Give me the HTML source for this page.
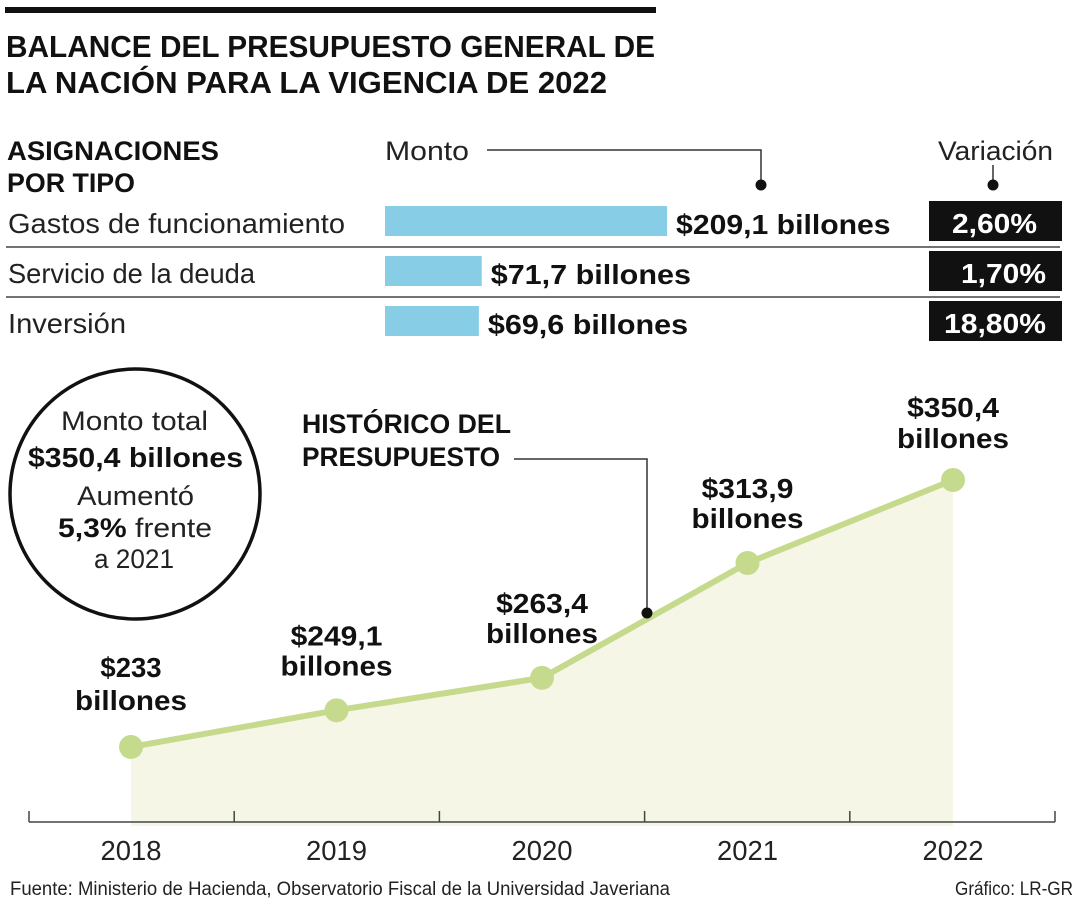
<!DOCTYPE html>
<html><head><meta charset="utf-8"><style>
html,body{margin:0;padding:0;background:#fff;}
svg{display:block;font-family:"Liberation Sans Narrow","Liberation Sans",sans-serif;}
.b{font-weight:bold;}
</style></head><body>
<svg id="chart" width="1080" height="900" viewBox="0 0 1080 900" xmlns="http://www.w3.org/2000/svg">
<rect x="5" y="7" width="651" height="6" fill="#111"/>
<text x="6" y="57" font-size="31" class="b" textLength="649" lengthAdjust="spacingAndGlyphs" fill="#111">BALANCE DEL PRESUPUESTO GENERAL DE</text>
<text x="6" y="93" font-size="31" class="b" textLength="601" lengthAdjust="spacingAndGlyphs" fill="#111">LA NACIÓN PARA LA VIGENCIA DE 2022</text>
<text x="7" y="160" font-size="27" class="b" textLength="212" lengthAdjust="spacingAndGlyphs" fill="#111">ASIGNACIONES</text>
<text x="7" y="192" font-size="27" class="b" textLength="128" lengthAdjust="spacingAndGlyphs" fill="#111">POR TIPO</text>
<text x="385" y="160" font-size="27" textLength="84" lengthAdjust="spacingAndGlyphs" fill="#222">Monto</text>
<polyline points="487,150 761,150 761,185" fill="none" stroke="#333" stroke-width="1.5"/>
<circle cx="761" cy="185" r="5.5" fill="#111"/>
<text x="938" y="160" font-size="27" textLength="115" lengthAdjust="spacingAndGlyphs" fill="#222">Variación</text>
<line x1="993" y1="165" x2="993" y2="185" stroke="#333" stroke-width="1.5"/>
<circle cx="993" cy="185" r="5.5" fill="#111"/>
<g id="bars"></g>
<circle cx="135" cy="494" r="125" fill="#fff" stroke="#111" stroke-width="3.5"/>
<text x="61" y="430" font-size="27" textLength="147" lengthAdjust="spacingAndGlyphs" fill="#222">Monto total</text>
<text x="28" y="467" font-size="28" class="b" textLength="215" lengthAdjust="spacingAndGlyphs" fill="#111">$350,4 billones</text>
<text x="77" y="505" font-size="27" textLength="117" lengthAdjust="spacingAndGlyphs" fill="#222">Aumentó</text>
<text x="58" y="537" font-size="27" textLength="154" lengthAdjust="spacingAndGlyphs" fill="#222"><tspan font-weight="bold" fill="#111">5,3%</tspan> frente</text>
<text x="94" y="568" font-size="27" textLength="80" lengthAdjust="spacingAndGlyphs" fill="#222">a 2021</text>
<g id="line-chart"></g>
<text x="302" y="433" font-size="27" class="b" textLength="209" lengthAdjust="spacingAndGlyphs" fill="#111">HISTÓRICO DEL</text>
<text x="302" y="466" font-size="27" class="b" textLength="198" lengthAdjust="spacingAndGlyphs" fill="#111">PRESUPUESTO</text>
<polyline points="514,459 647,459 647,613" fill="none" stroke="#333" stroke-width="1.5"/>
<circle cx="647" cy="613" r="5.5" fill="#111"/>
<text x="10" y="895" font-size="19" textLength="660" lengthAdjust="spacingAndGlyphs" fill="#222">Fuente: Ministerio de Hacienda, Observatorio Fiscal de la Universidad Javeriana</text>
<text x="955" y="895" font-size="19" textLength="118" lengthAdjust="spacingAndGlyphs" fill="#222">Gráfico: LR-GR</text>
</svg>
<script>
const barCategories = ["Gastos de funcionamiento", "Servicio de la deuda", "Inversión"];
const barValues = [209.1, 71.7, 69.6];
const barLabels = ["$209,1 billones", "$71,7 billones", "$69,6 billones"];
const variationLabels = ["2,60%", "1,70%", "18,80%"];

const years = ["2018", "2019", "2020", "2021", "2022"];
const totals = [233, 249.1, 263.4, 313.9, 350.4];
const totalLabels = ["$233", "$249,1", "$263,4", "$313,9", "$350,4"];

const NS = "http://www.w3.org/2000/svg";
function mk(tag, attrs, parent, text) {
  const e = document.createElementNS(NS, tag);
  for (const k in attrs) e.setAttribute(k, attrs[k]);
  if (text !== undefined) e.textContent = text;
  parent.appendChild(e);
  return e;
}

// bar section
const barX = v => 385 + v * 1.349;
const bg = document.getElementById('bars');
const labelW = [337, 247, 118];
const pctRight = [1037, 1046, 1046];
barCategories.forEach((c, i) => {
  const top = 206 + i * 50;
  const t = mk('text', {x: 8, y: top + 27, 'font-size': 28, fill: '#222', textLength: labelW[i], lengthAdjust: 'spacingAndGlyphs'}, bg, c);
  
  
  const r = mk('rect', {x: 385, y: top, width: barX(barValues[i]) - 385, height: 30, fill: '#87cde5'}, bg);
  
  
  const vt = mk('text', {x: barX(barValues[i]) + 9, y: top + 28, 'font-size': 28, 'font-weight': 'bold', fill: '#111', textLength: barLabels[i].length * 14.3, lengthAdjust: 'spacingAndGlyphs'}, bg, barLabels[i]);
  
  
  const box = mk('rect', {x: 929, y: top - 5, width: 133, height: 40, fill: '#111'}, bg);
  
  
  const pt = mk('text', {x: pctRight[i], y: top + 27, 'font-size': 28, 'font-weight': 'bold', fill: '#fff', 'text-anchor': 'end', textLength: variationLabels[i].length * 17, lengthAdjust: 'spacingAndGlyphs'}, bg, variationLabels[i]);
  
  
  if (i < 2) {
    const l = mk('line', {x1: 6, x2: 1060, y1: top + 41, y2: top + 41, stroke: '#444', 'stroke-width': 1.5}, bg);
    
    
  }
});

// line chart
const xPos = i => 131 + i * 205.5;
const yPos = v => 822 - (v - 200) * 2.274;
const lg = document.getElementById('line-chart');
let area = `M${xPos(0)},826 `;
totals.forEach((v, i) => { area += `L${xPos(i)},${yPos(v)} `; });
area += `L${xPos(totals.length - 1)},826 Z`;
const ap = mk('path', {d: area, fill: '#f5f6e6'}, lg);


const ax = mk('line', {x1: 29, x2: 1055, y1: 822, y2: 822, stroke: '#444', 'stroke-width': 1.5}, lg);


for (let k = 0; k <= years.length; k++) {
  const tx = 29 + k * 205.2;
  const tk = mk('line', {x1: tx, x2: tx, y1: 811, y2: 822, stroke: '#444', 'stroke-width': 1.5}, lg);
  
  
}
const pts = totals.map((v, i) => `${xPos(i)},${yPos(v)}`).join(' ');
const pl = mk('polyline', {points: pts, fill: 'none', stroke: '#c6da8e', 'stroke-width': 6, 'stroke-linejoin': 'round'}, lg);


totals.forEach((v, i) => {
  const c = mk('circle', {cx: xPos(i), cy: yPos(v), r: 12, fill: '#c6da8e'}, lg);
  
  
  const y = yPos(v);
  const offs = i === 4 ? [63, 32] : (i === 0 ? [70, 37] : [65, 35]);
  const t1 = mk('text', {x: xPos(i), y: y - offs[0], 'font-size': 28, 'font-weight': 'bold', fill: '#111', 'text-anchor': 'middle', textLength: totalLabels[i].length * 15.3, lengthAdjust: 'spacingAndGlyphs'}, lg, totalLabels[i]);
  
  
  const t2 = mk('text', {x: xPos(i), y: y - offs[1], 'font-size': 28, 'font-weight': 'bold', fill: '#111', 'text-anchor': 'middle', textLength: 112, lengthAdjust: 'spacingAndGlyphs'}, lg, 'billones');
  
  
  const yl = mk('text', {x: xPos(i), y: 860, 'font-size': 28, fill: '#222', 'text-anchor': 'middle', textLength: 61, lengthAdjust: 'spacingAndGlyphs'}, lg, years[i]);
  
  
});
</script>
</body></html>
